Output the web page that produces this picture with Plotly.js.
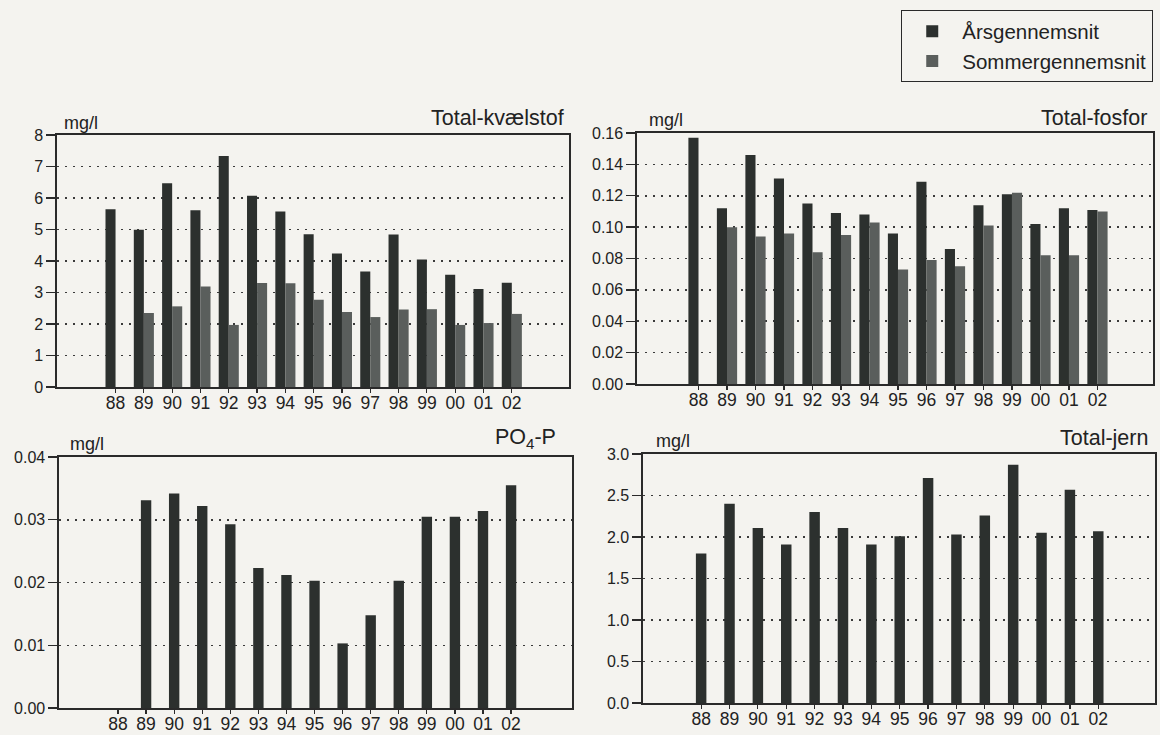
<!DOCTYPE html>
<html>
<head>
<meta charset="utf-8">
<script src="https://cdn.plot.ly/plotly-3.0.1.min.js"></script>
<style>
  html, body { margin: 0; padding: 0; background: #f4f3ef; }
  #chart { width: 1160px; height: 735px; }
</style>
</head>
<body>
<div id="chart"></div>
<script>
// Years (two-digit labels)
const years = ["88","89","90","91","92","93","94","95","96","97","98","99","00","01","02"];

// Total nitrogen, mg/l
const nitrogenAnnual = [5.64, 4.99, 6.47, 5.61, 7.33, 6.07, 5.57, 4.85, 4.24, 3.67, 4.84, 4.05, 3.56, 3.11, 3.31];
const nitrogenSummer = [null, 2.35, 2.56, 3.19, 1.97, 3.30, 3.29, 2.77, 2.38, 2.22, 2.46, 2.47, 1.97, 2.03, 2.32];

// Total phosphorus, mg/l
const phosphorusAnnual = [0.157, 0.112, 0.146, 0.131, 0.115, 0.109, 0.108, 0.096, 0.129, 0.086, 0.114, 0.121, 0.102, 0.112, 0.111];
const phosphorusSummer = [null, 0.100, 0.094, 0.096, 0.084, 0.095, 0.103, 0.073, 0.079, 0.075, 0.101, 0.122, 0.082, 0.082, 0.110];

// Orthophosphate (PO4-P), annual mean, mg/l
const phosphateAnnual = [null, 0.0331, 0.0342, 0.0322, 0.0293, 0.0223, 0.0212, 0.0203, 0.0103, 0.0148, 0.0203, 0.0305, 0.0305, 0.0314, 0.0355];

// Total iron, annual mean, mg/l
const ironAnnual = [1.80, 2.40, 2.11, 1.91, 2.30, 2.11, 1.91, 2.01, 2.71, 2.03, 2.26, 2.87, 2.05, 2.57, 2.07];

const seriesNames = ["Årsgennemsnit", "Sommergennemsnit"];
const panelTitles = ["Total-kvælstof", "Total-fosfor", "PO<sub>4</sub>-P", "Total-jern"];
const unitLabel = "mg/l";

const annualColor = "#2c302e";
const summerColor = "#5a5e5c";
const ink = "#222222";
const fontFamily = "'Liberation Sans', Arial, Helvetica, sans-serif";

const traces = [
  { type: "bar", x: years, y: nitrogenAnnual, name: seriesNames[0], legendgroup: "a",
    marker: { color: annualColor }, xaxis: "x", yaxis: "y" },
  { type: "bar", x: years, y: nitrogenSummer, name: seriesNames[1], legendgroup: "s",
    marker: { color: summerColor }, xaxis: "x", yaxis: "y" },
  { type: "bar", x: years, y: phosphorusAnnual, name: seriesNames[0], legendgroup: "a", showlegend: false,
    marker: { color: annualColor }, xaxis: "x2", yaxis: "y2" },
  { type: "bar", x: years, y: phosphorusSummer, name: seriesNames[1], legendgroup: "s", showlegend: false,
    marker: { color: summerColor }, xaxis: "x2", yaxis: "y2" },
  { type: "bar", x: years, y: phosphateAnnual, name: seriesNames[0], legendgroup: "a", showlegend: false,
    width: 0.37, marker: { color: annualColor }, xaxis: "x3", yaxis: "y3" },
  { type: "bar", x: years, y: ironAnnual, name: seriesNames[0], legendgroup: "a", showlegend: false,
    width: 0.37, marker: { color: annualColor }, xaxis: "x4", yaxis: "y4" }
];

function xAxis(domain, range, anchor) {
  return {
    domain: domain, range: range, anchor: anchor, type: "category",
    showline: true, mirror: true, linecolor: "#2a2a2a", linewidth: 1.6,
    ticks: "outside", ticklen: 4, tickwidth: 1.2, tickcolor: "#2a2a2a",
    ticklabelstandoff: -5,
    showgrid: false, zeroline: false, fixedrange: true,
    tickfont: { family: fontFamily, size: 17.5, color: ink }
  };
}
function yAxis(domain, range, dtick, fmt, anchor) {
  return {
    domain: domain, range: range, dtick: dtick, tick0: 0, tickformat: fmt, anchor: anchor,
    showline: true, mirror: true, linecolor: "#2a2a2a", linewidth: 1.6,
    ticks: "outside", ticklen: 9, tickwidth: 1.4, tickcolor: "#2a2a2a",
    showgrid: true, gridcolor: "#3a3a3a", gridwidth: 1.5, griddash: "2px,6px",
    zeroline: false, fixedrange: true,
    tickfont: { family: fontFamily, size: 16, color: ink }
  };
}

function label(text, x, y, anchor, size) {
  return { text: text, x: x, y: y, xref: "paper", yref: "paper", xanchor: anchor, yanchor: "middle",
           showarrow: false, font: { family: fontFamily, size: size, color: ink } };
}

const layout = {
  width: 1160, height: 735,
  margin: { l: 0, r: 0, t: 0, b: 0 },
  paper_bgcolor: "#f4f3ef", plot_bgcolor: "rgba(0,0,0,0)",
  barmode: "group", bargap: 0.29, bargroupgap: 0,
  xaxis:  xAxis([0.0491, 0.4905], [-2.07, 16.02], "y"),
  yaxis:  yAxis([0.4735, 0.8163], [0, 8], 1, "", "x"),
  xaxis2: xAxis([0.5491, 0.9940], [-2.16, 15.95], "y2"),
  yaxis2: yAxis([0.4776, 0.8190], [0, 0.16], 0.02, ".2f", "x2"),
  xaxis3: xAxis([0.0509, 0.4931], [-2.10, 16.17], "y3"),
  yaxis3: yAxis([0.0367, 0.3782], [0, 0.04], 0.01, ".2f", "x3"),
  xaxis4: xAxis([0.5543, 0.9957], [-2.05, 16.0], "y4"),
  yaxis4: yAxis([0.0435, 0.3823], [0, 3.0], 0.5, ".1f", "x4"),
  showlegend: true,
  legend: {
    x: 0.994, xanchor: "right", y: 0.986, yanchor: "top",
    bgcolor: "rgba(0,0,0,0)", bordercolor: "#2a2a2a", borderwidth: 1.2,
    font: { family: fontFamily, size: 20.5, color: ink },
    itemwidth: 50, tracegroupgap: 0
  },
  annotations: [
    label(unitLabel, 0.0534, 0.8327, "left", 18),
    label(panelTitles[0], 0.488, 0.8395, "right", 21.5),
    label(unitLabel, 0.5578, 0.8367, "left", 18),
    label(panelTitles[1], 0.9905, 0.8395, "right", 21.5),
    label(unitLabel, 0.0586, 0.3960, "left", 18),
    label(panelTitles[2], 0.481, 0.4040, "right", 21.5),
    label(unitLabel, 0.5638, 0.4000, "left", 18),
    label(panelTitles[3], 0.9914, 0.4040, "right", 21.5)
  ]
};

Plotly.newPlot("chart", traces, layout, { displayModeBar: false, staticPlot: true });
</script>
</body>
</html>
